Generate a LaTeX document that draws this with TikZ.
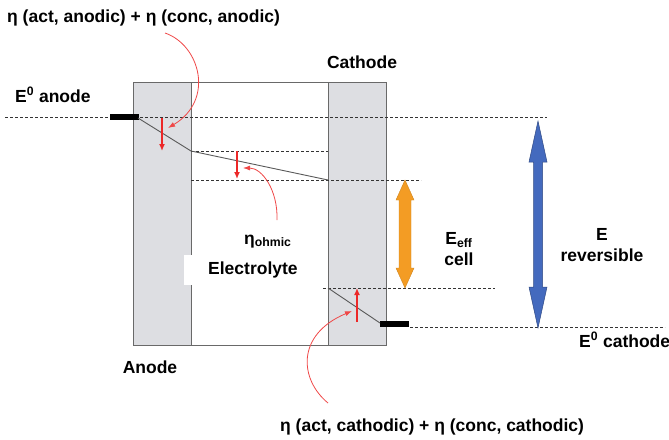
\documentclass[tikz,border=0pt]{standalone}
\usepackage{fontspec}
\setmainfont{Liberation Sans}
\usepackage{xcolor}
\usepackage{tikz}
\usetikzlibrary{arrows.meta}

\definecolor{elgray}{RGB}{221,222,226}
\definecolor{framegray}{RGB}{105,105,105}
\definecolor{dropred}{RGB}{236,40,40}
\definecolor{effor}{RGB}{243,156,36}
\definecolor{revblue}{RGB}{68,106,190}

\tikzset{
  lbl/.style={font=\fontsize{17.5}{21}\selectfont\bfseries, inner sep=0pt},
  level/.style={densely dashed, line width=1pt, black!80},
  drop/.style={dropred, line width=1.6pt, -{Latex[length=7pt,width=6pt]}},
  hint/.style={dropred!85, line width=0.8pt, -{Latex[length=7pt,width=5pt]}},
  potential/.style={black!65, line width=0.9pt},
}

\begin{document}
\begin{tikzpicture}[x=1pt,y=-1pt]
\useasboundingbox (0,0) rectangle (669,439);
% electrodes and cell frame
\fill[elgray] (133,82) rectangle (191,345);
\fill[elgray] (328,82) rectangle (386,345);
\draw[framegray, line width=0.9pt] (133,82) rectangle (386,345);
\draw[framegray, line width=0.9pt] (191,82) -- (191,345);
\draw[framegray, line width=0.9pt] (328,82) -- (328,345);
% energy levels
\coordinate (anE0L) at (5,117);
\coordinate (anE0R) at (547,117);
\coordinate (ifA) at (191,151);
\coordinate (ifAR) at (328,151);
\coordinate (ifC) at (191,180);
\coordinate (ifCR) at (421,180);
\coordinate (ifCc) at (328,180);
\coordinate (caL) at (323,288);
\coordinate (caR) at (495,288);
\coordinate (caIf) at (328,288);
\coordinate (caE0L) at (410,327);
\coordinate (caE0R) at (665,327);
\draw[level] (anE0L) -- (anE0R);
\draw[level] (ifA) -- (ifAR);
\draw[level] (ifC) -- (ifCR);
\draw[level] (caL) -- (caR);
\draw[level] (caE0L) -- (caE0R);
% electrode bars and potential profile
\fill[black] (110,114) rectangle (139,120);
\fill[black] (380,321) rectangle (409,327);
\coordinate (anBar) at (138,118);
\coordinate (caBar) at (380,323);
\draw[potential] (anBar) -- (ifA) -- (ifCc);
\draw[potential] (caIf) -- (caBar);
% overpotential drops
\coordinate (dA1) at (162,118);
\coordinate (dA2) at (162,151);
\coordinate (dO1) at (237,151);
\coordinate (dO2) at (237,179);
\coordinate (dC1) at (357,322);
\coordinate (dC2) at (357,288);
\draw[drop] (dA1) -- (dA2);
\draw[drop] (dO1) -- (dO2);
\draw[drop] (dC1) -- (dC2);
% cell voltages
\coordinate (effTop) at (405,180);
\coordinate (effBot) at (405,288);
\coordinate (revTop) at (538,121);
\coordinate (revBot) at (538,328);
\draw[effor!85!black, fill=effor, line width=0.4pt] (effTop) -- ++(9,20) -- ++(-3,0) -- ++(0,68) -- ++(3,0)
  -- (effBot) -- ++(-9,-20) -- ++(3,0) -- ++(0,-68) -- ++(-3,0) -- cycle;
\draw[revblue!70!black, fill=revblue, line width=0.5pt] (revTop) -- ++(9,41) -- ++(-4.5,0) -- ++(0,125) -- ++(4.5,0)
  -- (revBot) -- ++(-9,-41) -- ++(4.5,0) -- ++(0,-125) -- ++(-4.5,0) -- cycle;
% labels
\node[lbl, anchor=base west] (etaAn) at (7,22) {η (act, anodic) + η (conc, anodic)};
\node[lbl, anchor=base west] (anE0) at (15,102) {E\textsuperscript{0} anode};
\node[lbl, anchor=base] (cathode) at (362,68) {Cathode};
\node[lbl, anchor=base west] (etaOhm) at (244,244) {η\textsubscript{ohmic}};
\node[lbl, fill=white, inner xsep=24pt, minimum height=30pt, anchor=west] (elyte) at (184,270) {Electrolyte};
\node[lbl, align=center] (eff) at (459,249) {E\textsubscript{eff}\\cell};
\node[lbl, align=center] (rev) at (602,245) {E\\reversible};
\node[lbl, anchor=base] (anode) at (150,373) {Anode};
\node[lbl, anchor=base west] (caE0) at (579,347) {E\textsuperscript{0} cathode};
\node[lbl, anchor=base west] (etaCa) at (280,431) {η (act, cathodic) + η (conc, cathodic)};
% pointers
\coordinate (pA) at (165,33);
\coordinate (pAt) at (168,128);
\coordinate (pO) at (277,220);
\coordinate (pOt) at (243,168);
\coordinate (pC) at (328,403);
\coordinate (pCt) at (352,311);
\draw[hint] (pA) .. controls (200,45) and (215,100) .. (pAt);
\draw[hint] (pO) .. controls (278,190) and (262,168) .. (pOt);
\draw[hint] (pC) .. controls (300,380) and (295,335) .. (pCt);
\end{tikzpicture}
\end{document}
